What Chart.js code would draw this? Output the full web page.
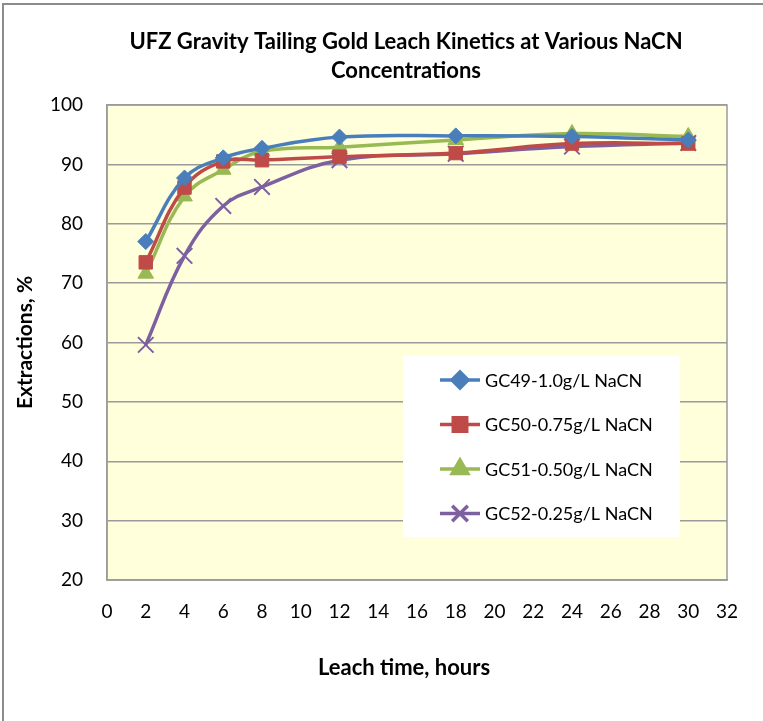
<!DOCTYPE html>
<html>
<head>
<meta charset="utf-8">
<script src="https://cdn.jsdelivr.net/npm/chart.js@4/dist/chart.umd.min.js"></script>
<style>
  html, body { margin: 0; padding: 0; background: #fff; }
  #wrap { width: 763px; height: 721px; }
</style>
</head>
<body>
<div id="wrap"><canvas id="leach-chart" width="763" height="721"></canvas></div>
<script>
// Gold extraction vs leach time for each NaCN strength
const leachHours = [2, 4, 6, 8, 12, 18, 24, 30];
const gc49 = [77.0, 87.7, 91.1, 92.7, 94.6, 94.8, 94.7, 94.1];
const gc50 = [73.5, 86.1, 90.5, 90.7, 91.3, 91.9, 93.5, 93.5];
const gc51 = [71.6, 84.6, 89.1, 92.2, 92.9, 94.1, 95.2, 94.7];
const gc52 = [59.6, 74.6, 83.0, 86.2, 90.7, 91.8, 93.0, 93.6];

const seriesLabels = ['GC49-1.0g/L NaCN', 'GC50-0.75g/L NaCN', 'GC51-0.50g/L NaCN', 'GC52-0.25g/L NaCN'];
const titleLines = ['UFZ Gravity Tailing Gold Leach Kinetics at Various NaCN', 'Concentrations'];
const xAxisTitle = 'Leach time, hours';
const yAxisTitle = 'Extractions, %';

const FONT = 'Lato, "Open Sans", sans-serif';
const GRID = '#9a9a9a';

const seriesStyle = [
  { color: '#4a7ebb', pointStyle: 'rectRot', radius: 8 },
  { color: '#be4b48', pointStyle: 'rect', radius: 9.5 },
  { color: '#98b954', pointStyle: 'triangle', radius: 9 },
  { color: '#7d60a0', pointStyle: 'crossRot', radius: 11 }
];

function toPoints(values) {
  return leachHours.map((h, i) => ({ x: h, y: values[i] }));
}

const datasets = [gc49, gc50, gc51, gc52].map((vals, i) => {
  const s = seriesStyle[i];
  return {
    label: seriesLabels[i],
    data: toPoints(vals),
    borderColor: s.color,
    backgroundColor: s.color,
    borderWidth: 3.5,
    tension: 0.4,
    pointStyle: s.pointStyle,
    pointRadius: s.radius,
    pointBackgroundColor: s.color,
    pointBorderColor: s.color,
    pointBorderWidth: s.pointStyle === 'crossRot' ? 2 : 1
  };
});

// page frame, plot fill and outline
const framePlugin = {
  id: 'frame',
  beforeDraw(chart) {
    const ctx = chart.ctx;
    const a = chart.chartArea;
    ctx.save();
    ctx.fillStyle = '#fff';
    ctx.fillRect(0, 0, chart.width, chart.height);
    ctx.fillStyle = '#8c8c8c';
    ctx.fillRect(2, 3, chart.width, 2);
    ctx.fillRect(2, 3, 2, chart.height);
    ctx.fillStyle = '#ffffdc';
    ctx.fillRect(a.left, a.top, a.right - a.left, a.bottom - a.top);
    ctx.restore();
  },
  beforeDatasetsDraw(chart) {
    const ctx = chart.ctx;
    const a = chart.chartArea;
    ctx.save();
    ctx.strokeStyle = GRID;
    ctx.lineWidth = 1.5;
    ctx.strokeRect(a.left, a.top, a.right - a.left, a.bottom - a.top);
    ctx.restore();
  }
};

// chart title, x title and the boxed legend
const textPlugin = {
  id: 'texts',
  afterDraw(chart) {
    const ctx = chart.ctx;
    ctx.save();
    ctx.fillStyle = '#000';
    ctx.textAlign = 'center';
    ctx.textBaseline = 'middle';
    ctx.font = 'bold 22px ' + FONT;
    titleLines.forEach((line, i) => ctx.fillText(line, 406, 42 + i * 29));
    ctx.fillText(xAxisTitle, 404, 668);

    // legend
    const box = { left: 403, top: 356, width: 277, height: 181 };
    ctx.fillStyle = '#fff';
    ctx.fillRect(box.left, box.top, box.width, box.height);
    ctx.font = '18px ' + FONT;
    ctx.textAlign = 'left';
    chart.data.datasets.forEach((ds, i) => {
      const y = box.top + 24 + i * 44.5;
      ctx.strokeStyle = ds.borderColor;
      ctx.lineWidth = 3.5;
      ctx.beginPath();
      ctx.moveTo(440, y);
      ctx.lineTo(480, y);
      ctx.stroke();
      ctx.fillStyle = ds.pointBackgroundColor;
      ctx.strokeStyle = ds.pointBorderColor;
      Chart.helpers.drawPoint(ctx, {
        pointStyle: ds.pointStyle,
        radius: ds.pointRadius,
        rotation: 0,
        borderWidth: ds.pointBorderWidth
      }, 460, y);
      ctx.fillStyle = '#000';
      ctx.fillText(ds.label, 485, y + 1);
    });
    ctx.restore();
  }
};

new Chart(document.getElementById('leach-chart'), {
  type: 'line',
  data: { datasets },
  plugins: [framePlugin, textPlugin],
  options: {
    responsive: false,
    animation: false,
    devicePixelRatio: 1,
    layout: { padding: { top: 105, right: 36, left: 0, bottom: 0 } },
    plugins: {
      legend: { display: false },
      title: { display: false },
      tooltip: { enabled: false }
    },
    scales: {
      x: {
        type: 'linear',
        min: 0,
        max: 32,
        ticks: {
          stepSize: 2,
          color: '#000',
          padding: 20,
          font: { family: FONT, size: 19 }
        },
        grid: { display: false, drawTicks: false },
        border: { display: true, color: GRID, width: 1.5 },
        afterFit(scale) { scale.height = 141; }
      },
      y: {
        min: 20,
        max: 100,
        ticks: {
          stepSize: 10,
          color: '#000',
          padding: 24,
          font: { family: FONT, size: 19 }
        },
        grid: { color: GRID, lineWidth: 1.5, drawTicks: false },
        border: { display: true, color: GRID, width: 1.5 },
        title: {
          display: true,
          text: yAxisTitle,
          color: '#000',
          font: { family: FONT, size: 21, weight: 'bold' },
          padding: { top: 13, bottom: 0 }
        },
        afterFit(scale) { scale.width = 107; }
      }
    }
  }
});
</script>
</body>
</html>
